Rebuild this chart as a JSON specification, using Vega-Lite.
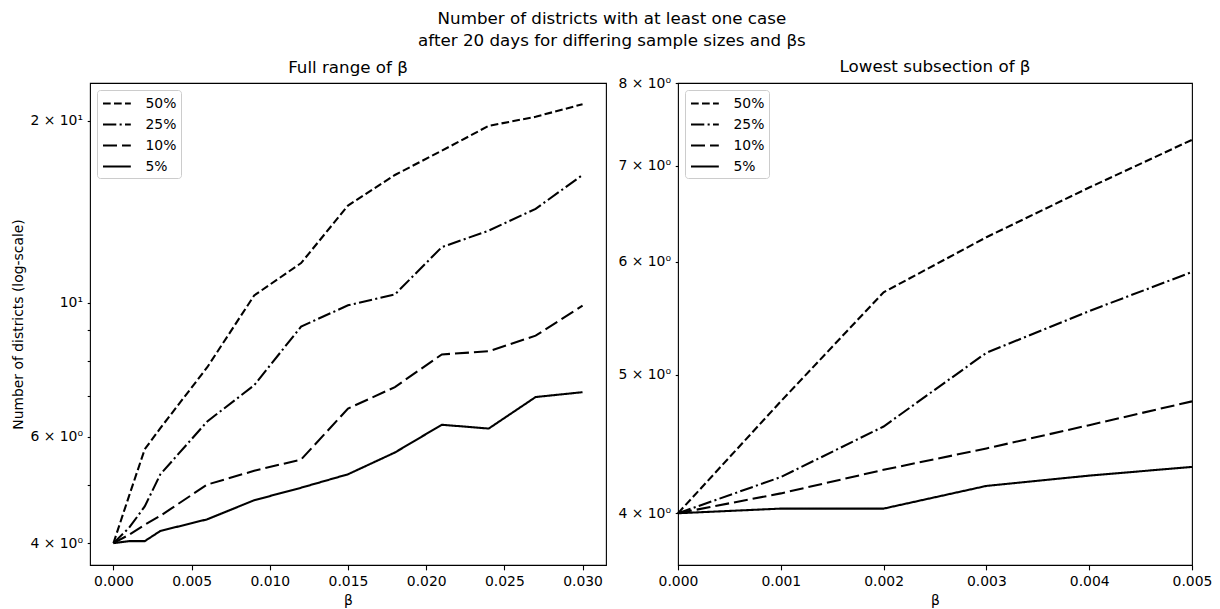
{
  "$schema": "https://vega.github.io/schema/vega-lite/v6.json",
  "background": "white",
  "padding": {"left": 11, "top": 11, "right": 5, "bottom": 5},
  "title": {
    "text": ["Number of districts with at least one case", "after 20 days for differing sample sizes and βs"],
    "fontSize": 16.7, "fontWeight": "normal", "lineHeight": 22, "anchor": "middle", "offset": 9, "color": "black", "font": "DejaVu Sans"
  },
  "datasets": {
    "full": [
      {"sample": "50%", "beta": 0, "districts": 4.0},
      {"sample": "50%", "beta": 0.001, "districts": 4.79},
      {"sample": "50%", "beta": 0.002, "districts": 5.72},
      {"sample": "50%", "beta": 0.003, "districts": 6.2},
      {"sample": "50%", "beta": 0.006, "districts": 7.82},
      {"sample": "50%", "beta": 0.009, "districts": 10.28},
      {"sample": "50%", "beta": 0.012, "districts": 11.63},
      {"sample": "50%", "beta": 0.015, "districts": 14.48},
      {"sample": "50%", "beta": 0.018, "districts": 16.27},
      {"sample": "50%", "beta": 0.021, "districts": 17.85},
      {"sample": "50%", "beta": 0.024, "districts": 19.62},
      {"sample": "50%", "beta": 0.027, "districts": 20.31},
      {"sample": "50%", "beta": 0.030, "districts": 21.31},
      {"sample": "25%", "beta": 0, "districts": 4.0},
      {"sample": "25%", "beta": 0.001, "districts": 4.24},
      {"sample": "25%", "beta": 0.002, "districts": 4.6},
      {"sample": "25%", "beta": 0.003, "districts": 5.2},
      {"sample": "25%", "beta": 0.006, "districts": 6.36},
      {"sample": "25%", "beta": 0.009, "districts": 7.3},
      {"sample": "25%", "beta": 0.012, "districts": 9.13},
      {"sample": "25%", "beta": 0.015, "districts": 9.9},
      {"sample": "25%", "beta": 0.018, "districts": 10.32},
      {"sample": "25%", "beta": 0.021, "districts": 12.36},
      {"sample": "25%", "beta": 0.024, "districts": 13.16},
      {"sample": "25%", "beta": 0.027, "districts": 14.3},
      {"sample": "25%", "beta": 0.030, "districts": 16.27},
      {"sample": "10%", "beta": 0, "districts": 4.0},
      {"sample": "10%", "beta": 0.001, "districts": 4.13},
      {"sample": "10%", "beta": 0.002, "districts": 4.29},
      {"sample": "10%", "beta": 0.003, "districts": 4.44},
      {"sample": "10%", "beta": 0.006, "districts": 5.0},
      {"sample": "10%", "beta": 0.009, "districts": 5.27},
      {"sample": "10%", "beta": 0.012, "districts": 5.5},
      {"sample": "10%", "beta": 0.015, "districts": 6.68},
      {"sample": "10%", "beta": 0.018, "districts": 7.25},
      {"sample": "10%", "beta": 0.021, "districts": 8.21},
      {"sample": "10%", "beta": 0.024, "districts": 8.31},
      {"sample": "10%", "beta": 0.027, "districts": 8.82},
      {"sample": "10%", "beta": 0.030, "districts": 9.89},
      {"sample": "5%", "beta": 0, "districts": 4.0},
      {"sample": "5%", "beta": 0.001, "districts": 4.03},
      {"sample": "5%", "beta": 0.002, "districts": 4.03},
      {"sample": "5%", "beta": 0.003, "districts": 4.19},
      {"sample": "5%", "beta": 0.006, "districts": 4.38},
      {"sample": "5%", "beta": 0.009, "districts": 4.71},
      {"sample": "5%", "beta": 0.012, "districts": 4.94},
      {"sample": "5%", "beta": 0.015, "districts": 5.2},
      {"sample": "5%", "beta": 0.018, "districts": 5.65},
      {"sample": "5%", "beta": 0.021, "districts": 6.28},
      {"sample": "5%", "beta": 0.024, "districts": 6.19},
      {"sample": "5%", "beta": 0.027, "districts": 6.98},
      {"sample": "5%", "beta": 0.030, "districts": 7.11}
    ],
    "low": [
      {"sample": "50%", "beta": 0, "districts": 4.0},
      {"sample": "50%", "beta": 0.001, "districts": 4.79},
      {"sample": "50%", "beta": 0.002, "districts": 5.71},
      {"sample": "50%", "beta": 0.003, "districts": 6.24},
      {"sample": "50%", "beta": 0.004, "districts": 6.76},
      {"sample": "50%", "beta": 0.005, "districts": 7.3},
      {"sample": "25%", "beta": 0, "districts": 4.0},
      {"sample": "25%", "beta": 0.001, "districts": 4.24},
      {"sample": "25%", "beta": 0.002, "districts": 4.6},
      {"sample": "25%", "beta": 0.003, "districts": 5.18},
      {"sample": "25%", "beta": 0.004, "districts": 5.54},
      {"sample": "25%", "beta": 0.005, "districts": 5.9},
      {"sample": "10%", "beta": 0, "districts": 4.0},
      {"sample": "10%", "beta": 0.001, "districts": 4.13},
      {"sample": "10%", "beta": 0.002, "districts": 4.29},
      {"sample": "10%", "beta": 0.003, "districts": 4.44},
      {"sample": "10%", "beta": 0.004, "districts": 4.61},
      {"sample": "10%", "beta": 0.005, "districts": 4.79},
      {"sample": "5%", "beta": 0, "districts": 4.0},
      {"sample": "5%", "beta": 0.001, "districts": 4.03},
      {"sample": "5%", "beta": 0.002, "districts": 4.03},
      {"sample": "5%", "beta": 0.003, "districts": 4.18},
      {"sample": "5%", "beta": 0.004, "districts": 4.25},
      {"sample": "5%", "beta": 0.005, "districts": 4.31}
    ]
  },
  "bounds": "flush",
  "spacing": 72,
  "hconcat": [
    {
      "width": 516,
      "height": 482,
      "title": {"text": "Full range of β", "frame": "group", "offset": 6},
      "data": {"name": "full"},
      "mark": {"type": "line", "color": "black", "strokeWidth": 2.08},
      "encoding": {
        "x": {
          "field": "beta", "type": "quantitative",
          "scale": {"domain": [-0.0015, 0.0315], "nice": false, "zero": false},
          "axis": {"title": "β", "values": [0, 0.005, 0.01, 0.015, 0.02, 0.025, 0.03], "format": ".3f"}
        },
        "y": {
          "field": "districts", "type": "quantitative",
          "scale": {"type": "log", "domain": [3.68, 23.1], "nice": false},
          "axis": {
            "title": "Number of districts (log-scale)",
            "values": [4, 5, 6, 7, 8, 9, 10, 20],
            "labelExpr": "datum.value === 4 ? '4 × 10⁰' : datum.value === 6 ? '6 × 10⁰' : datum.value === 10 ? '10¹' : datum.value === 20 ? '2 × 10¹' : ''",
            "tickSize": 2.78,
            "labelPadding": 4.72,
            "titlePadding": 4,
            "encode": {"ticks": {"update": {"x2": {"signal": "datum.value === 10 ? -4.86 : -2.78"}}}}
          }
        },
        "strokeDash": {
          "field": "sample", "type": "nominal",
          "scale": {"domain": ["50%", "25%", "10%", "5%"], "range": [[7.7, 3.3], [13.3, 3.3, 2.1, 3.3], [14, 5], [1, 0]]},
          "legend": {"title": null, "orient": "top-left", "symbolType": "M-1,0H2.71"}
        }
      }
    },
    {
      "width": 514,
      "height": 482,
      "title": {"text": "Lowest subsection of β", "frame": "group", "offset": 0},
      "data": {"name": "low"},
      "mark": {"type": "line", "color": "black", "strokeWidth": 2.08},
      "encoding": {
        "x": {
          "field": "beta", "type": "quantitative",
          "scale": {"domain": [0, 0.005], "nice": false, "zero": false},
          "axis": {"title": "β", "values": [0, 0.001, 0.002, 0.003, 0.004, 0.005], "format": ".3f"}
        },
        "y": {
          "field": "districts", "type": "quantitative",
          "scale": {"type": "log", "domain": [3.68, 8], "nice": false},
          "axis": {
            "title": null,
            "values": [4, 5, 6, 7, 8],
            "labelExpr": "datum.value + ' × 10⁰'",
            "tickSize": 2.78,
            "labelPadding": 4.72
          }
        },
        "strokeDash": {
          "field": "sample", "type": "nominal",
          "scale": {"domain": ["50%", "25%", "10%", "5%"], "range": [[7.7, 3.3], [13.3, 3.3, 2.1, 3.3], [14, 5], [1, 0]]},
          "legend": {"title": null, "orient": "top-left", "symbolType": "M-1,0H2.71"}
        }
      }
    }
  ],
  "resolve": {
    "scale": {"x": "independent", "y": "independent", "strokeDash": "independent"},
    "legend": {"strokeDash": "independent"},
    "axis": {"x": "independent", "y": "independent"}
  },
  "config": {
    "font": "DejaVu Sans",
    "view": {"stroke": "black", "strokeWidth": 1.11},
    "axis": {
      "domain": false, "grid": false,
      "tickColor": "black", "tickWidth": 1.11, "tickSize": 4.86,
      "labelPadding": 4.86, "labelFontSize": 13.9, "labelColor": "black", "labelFont": "DejaVu Sans",
      "titleFont": "DejaVu Sans", "titleFontSize": 13.9, "titleFontWeight": "normal", "titleColor": "black",
      "labelFlush": false, "labelOverlap": false
    },
    "axisX": {"titlePadding": 5},
    "title": {"fontSize": 16.7, "fontWeight": "normal", "color": "black", "font": "DejaVu Sans"},
    "legend": {
      "offset": 6.9, "padding": 4.5,
      "fillColor": "rgba(255,255,255,0.8)", "strokeColor": "#cccccc", "cornerRadius": 3,
      "symbolSize": 225, "symbolStrokeWidth": 2.08, "symbolStrokeColor": "black",
      "labelFontSize": 13.9, "labelColor": "black", "labelOffset": 26, "rowPadding": 5, "labelFont": "DejaVu Sans"
    }
  }
}
